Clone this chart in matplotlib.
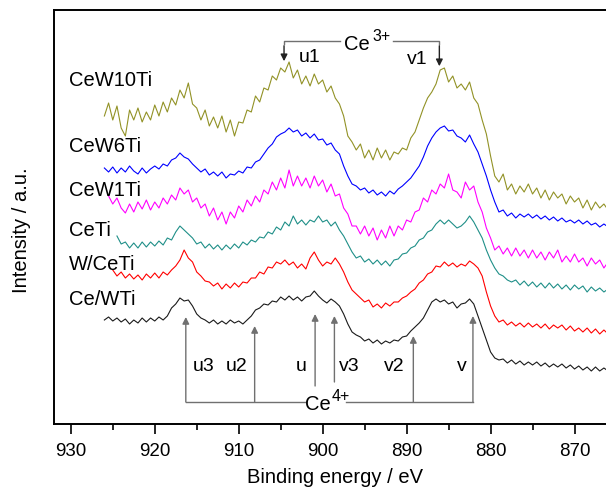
import numpy as np
import matplotlib
matplotlib.use("Agg")
import matplotlib.pyplot as plt

plt.rcParams['font.family'] = ['Liberation Sans', 'DejaVu Sans']

# Ce 3d spectra, intensity (a.u., stacked), 0.5 eV steps
step = 0.5

cew10ti_start = 926.0
cew10ti = [372, 385, 368, 382, 360, 352, 378, 368, 380, 366, 376, 368, 383, 372, 386, 376,
           390, 383, 398, 390, 405, 384, 380, 368, 378, 362, 371, 360, 372, 356, 368, 352,
           366, 365, 378, 376, 392, 386, 400, 398, 412, 408, 420, 416, 426, 410, 418, 404,
           412, 402, 414, 404, 408, 396, 402, 390, 384, 372, 352, 346, 338, 344, 330, 338,
           328, 340, 330, 338, 328, 336, 334, 340, 338, 350, 356, 368, 380, 390, 396, 404,
           418, 420, 406, 412, 400, 404, 398, 406, 390, 384, 368, 354, 332, 312, 306, 314,
           298, 304, 294, 302, 296, 304, 294, 300, 290, 298, 288, 296, 290, 294, 284, 292,
           286, 290, 280, 288, 278, 286, 280, 284, 278]

cew6ti_start = 926.0
cew6ti = [320, 316, 321, 315, 320, 316, 322, 317, 314, 320, 315, 319, 322, 319, 324, 322,
          328, 330, 335, 331, 329, 324, 320, 316, 319, 313, 316, 312, 316, 310, 314, 313,
          317, 315, 321, 320, 326, 328, 334, 340, 344, 351, 354, 356, 360, 356, 358, 352,
          355, 350, 354, 348, 349, 343, 345, 338, 334, 322, 312, 304, 302, 298, 300, 295,
          298, 293, 296, 292, 297, 294, 299, 302, 306, 310, 316, 322, 331, 342, 350, 356,
          360, 362, 357, 358, 352, 350, 346, 353, 344, 336, 324, 312, 298, 286, 276, 278,
          272, 275, 270, 274, 271, 274, 270, 273, 269, 272, 268, 271, 267, 270, 266, 268,
          265, 268, 264, 267, 263, 265, 261, 264, 261]

cew1ti_start = 925.5
cew1ti = [292, 284, 290, 280, 275, 284, 276, 286, 279, 288, 278, 286, 280, 290, 284, 293,
          288, 300, 294, 298, 286, 290, 280, 284, 272, 280, 268, 276, 264, 276, 270, 282,
          276, 288, 282, 292, 286, 298, 294, 306, 298, 310, 300, 318, 302, 312, 302, 310,
          300, 312, 302, 308, 296, 304, 292, 294, 280, 274, 262, 262, 254, 262, 252, 260,
          248, 258, 250, 262, 252, 262, 258, 268, 266, 276, 278, 290, 286, 298, 294, 304,
          300, 314, 298, 296, 290, 306, 298, 302, 286, 276, 260, 250, 238, 242, 234, 240,
          232, 240, 232, 238, 230, 238, 230, 236, 228, 236, 230, 238, 226, 232, 226, 234,
          226, 230, 222, 230, 224, 228, 220, 226]

ceti_start = 924.5
ceti = [252, 244, 246, 240, 245, 240, 246, 241, 246, 242, 247, 243, 250, 248, 256, 262,
        258, 254, 250, 244, 246, 240, 244, 239, 243, 238, 243, 239, 244, 240, 246, 243,
        248, 246, 251, 250, 256, 254, 261, 258, 266, 262, 272, 264, 268, 263, 268, 266,
        272, 266, 268, 262, 266, 258, 252, 244, 236, 230, 232, 226, 229, 224, 228, 223,
        227, 222, 228, 229, 234, 235, 240, 242, 248, 250, 256, 258, 264, 268, 264, 268,
        264, 260, 262, 266, 272, 266, 258, 250, 238, 228, 220, 214, 212, 208, 206, 208,
        203, 207, 202, 206, 201, 205, 200, 205, 200, 204, 199, 203, 198, 203, 199, 202,
        196, 201, 197, 200, 196, 199]

wceti_start = 925.0
wceti = [218, 212, 216, 210, 214, 209, 213, 208, 214, 210, 215, 210, 216, 213, 218, 222,
         228, 238, 230, 226, 216, 212, 207, 206, 202, 205, 199, 204, 200, 205, 201, 206,
         205, 210, 210, 216, 214, 221, 220, 226, 224, 228, 223, 226, 220, 224, 219, 230,
         236, 228, 222, 226, 224, 230, 224, 216, 206, 198, 194, 190, 186, 188, 181, 184,
         180, 185, 182, 186, 186, 190, 192, 196, 199, 205, 208, 214, 216, 222, 221, 226,
         222, 225, 221, 224, 222, 227, 224, 220, 212, 196, 182, 172, 166, 168, 163, 166,
         162, 165, 161, 165, 161, 164, 160, 164, 159, 163, 160, 163, 158, 162, 157, 160,
         156, 160, 155, 159, 154, 158, 154]

cewti_start = 926.0
cewti = [168, 171, 167, 170, 166, 169, 164, 168, 165, 170, 166, 170, 167, 171, 168, 172,
         180, 184, 190, 187, 188, 182, 174, 170, 168, 165, 168, 164, 167, 164, 168, 165,
         167, 164, 168, 172, 178, 180, 184, 183, 187, 186, 191, 188, 192, 188, 191, 187,
         191, 192, 197, 192, 188, 185, 189, 186, 182, 174, 164, 156, 153, 151, 147, 149,
         145, 148, 144, 147, 145, 148, 147, 151, 152, 157, 161, 165, 170, 178, 186, 189,
         186, 188, 184, 186, 180, 184, 185, 189, 184, 172, 160, 148, 136, 130, 128, 129,
         125, 128, 124, 127, 123, 126, 123, 126, 122, 125, 121, 124, 121, 124, 120, 123,
         119, 122, 118, 121, 117, 121, 117, 120, 117]

series = [
    ("CeW10Ti", cew10ti_start, cew10ti, "#929226", 409),
    ("CeW6Ti", cew6ti_start, cew6ti, "#0000ff", 342),
    ("CeW1Ti", cew1ti_start, cew1ti, "#ff00ff", 299),
    ("CeTi", ceti_start, ceti, "#1f8f88", 259),
    ("W/CeTi", wceti_start, wceti, "#ff0000", 224),
    ("Ce/WTi", cewti_start, cewti, "#1a1a1a", 189),
]

# peak markers
ce4_peaks = {"u3": 916.3, "u2": 908.1, "u": 900.9, "v3": 898.6, "v2": 889.2, "v": 882.1}
ce4_tips = {"u3": 171, "u2": 162, "u": 174, "v3": 172, "v2": 152, "v": 172}
ce4_text_x = {"u3": 914.2, "u2": 910.3, "u": 902.6, "v3": 896.8, "v2": 891.5, "v": 883.4}

fig = plt.figure(figsize=(6.06, 4.89), dpi=100)
ax = fig.add_axes([54/606, 64/489, 562.5/606, 414/489])

for name, start, vals, col, ylab in series:
    e = start - step*np.arange(len(vals))
    ax.plot(e, vals, color=col, lw=0.8)
    ax.text(930.2, ylab, name, fontsize=14.5, ha='left', va='center')

gray = '#707070'
# Ce3+ bracket
yb = 447
ax.plot([904.6, 904.6, 897.9], [yb-3, yb, yb], color=gray, lw=1)
ax.plot([891.6, 886.1, 886.1], [yb, yb, yb-3], color=gray, lw=1)
ax.annotate('', xy=(904.6, 424), xytext=(904.6, yb-2),
            arrowprops=dict(arrowstyle='-|>', color='#222222', lw=1, mutation_scale=10))
ax.annotate('', xy=(886.1, 419), xytext=(886.1, yb-2),
            arrowprops=dict(arrowstyle='-|>', color='#222222', lw=1, mutation_scale=10))
ax.text(895.9, yb-2, 'Ce', fontsize=14.5, ha='center', va='center')
ax.text(893.0, yb+6, '3+', fontsize=11.5, ha='center', va='center')
ax.text(901.6, 432, 'u1', fontsize=14, ha='center', va='center')
ax.text(888.7, 430, 'v1', fontsize=14, ha='center', va='center')

# Ce4+ bracket
yb4 = 86
ax.plot([916.3, 902.1], [yb4, yb4], color=gray, lw=1)
ax.plot([897.2, 882.1], [yb4, yb4], color=gray, lw=1)
ax.text(900.6, yb4-2, 'Ce', fontsize=14.5, ha='center', va='center')
ax.text(897.8, yb4+6, '4+', fontsize=11.5, ha='center', va='center')
for k, xp in ce4_peaks.items():
    base = yb4
    if k == "u":
        base = 102
    elif k == "v3":
        base = 106
    ax.annotate('', xy=(xp, ce4_tips[k]), xytext=(xp, base),
                arrowprops=dict(arrowstyle='-|>', color=gray, lw=1, mutation_scale=10,
                                shrinkA=0, shrinkB=0))
    ax.text(ce4_text_x[k], 122, k, fontsize=14, ha='center', va='center')

ax.set_xlim(932, 865)
ax.set_ylim(64, 478)
ax.set_xticks([930, 920, 910, 900, 890, 880, 870])
ax.set_xticks([925, 915, 905, 895, 885, 875], minor=True)
ax.set_yticks([])
ax.tick_params(axis='x', which='major', direction='out', length=7, width=1.2,
               labelsize=13.5, pad=6)
ax.tick_params(axis='x', which='minor', direction='out', length=4, width=1.2)
for s in ax.spines.values():
    s.set_linewidth(1.4)
ax.spines['right'].set_visible(False)

ax.set_xlabel('Binding energy / eV', fontsize=14.5, labelpad=6)
ax.set_ylabel('Intensity / a.u.', fontsize=14.5)
ax.yaxis.set_label_coords(-0.04, 0.47)

fig.savefig('out.png', dpi=100)
